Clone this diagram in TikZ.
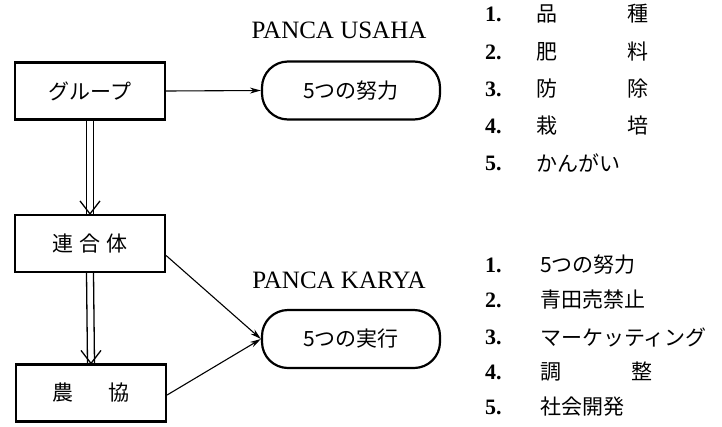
\documentclass[tikz,border=0pt]{standalone}
\usepackage{fontspec}
\setmainfont{Liberation Serif}
\newfontfamily\jp{Noto Sans CJK JP}
\usetikzlibrary{arrows.meta}
\begin{document}
\begin{tikzpicture}[x=1pt,y=-1pt,
  box/.style={draw,line width=2.2pt,minimum width=150pt,minimum height=57pt,inner sep=0pt,font=\jp\fontsize{21}{24}\selectfont},
  pill/.style={draw,line width=2.2pt,rounded corners=26pt,minimum width=178pt,minimum height=58pt,inner sep=0pt,font=\jp\fontsize{21}{24}\selectfont},
  arr/.style={line width=1.1pt,-{Stealth[length=11pt,width=6pt]}},
  dl/.style={line width=1.3pt},
  ttl/.style={font=\fontsize{25}{28}\selectfont,inner sep=0pt},
  num/.style={anchor=west,inner sep=0pt,font=\fontsize{22}{24}\selectfont\bfseries},
  itm/.style={anchor=west,inner sep=0pt,font=\jp\fontsize{21}{24}\selectfont}]
\useasboundingbox (0,0) rectangle (722,426);
\node[box] (grp) at (90,91) {グループ};
\node[box] (ren) at (90,243.5) {連\hspace{6pt}合\hspace{6pt}体};
\node[box] (nok) at (91,393) {農\hspace{36pt}協};
\node[pill] (dor) at (351,90.5) {5つの努力};
\node[pill] (jik) at (351,339) {5つの実行};
\node[ttl] (t1) at (339,30) {PANCA USAHA};
\node[ttl] (t2) at (339,280) {PANCA KARYA};
% double arrows
\draw[dl] ([xshift=-3.5pt]grp.south) -- ([xshift=-3.5pt]ren.north);
\draw[dl] ([xshift=3.5pt]grp.south) -- ([xshift=3.5pt]ren.north);
\draw[dl] ([xshift=-10pt,yshift=13pt]ren.north) -- (ren.north) -- ([xshift=10pt,yshift=13pt]ren.north);
\draw[dl] ([xshift=-3.5pt]ren.south) -- ([xshift=-3.5pt]nok.north);
\draw[dl] ([xshift=3.5pt]ren.south) -- ([xshift=3.5pt]nok.north);
\draw[dl] ([xshift=-10pt,yshift=13pt]nok.north) -- (nok.north) -- ([xshift=10pt,yshift=13pt]nok.north);
\draw[arr] (grp.east) -- (dor.west);
\draw[arr] ([yshift=-12pt]ren.east) -- (jik.west);
\draw[arr] ([yshift=-2pt]nok.east) -- (jik.west);
% list 1
\node[num] (a1) at (485,14) {1.};
\node[num] (a2) at (485,52) {2.};
\node[num] (a3) at (485,89) {3.};
\node[num] (a4) at (485,126) {4.};
\node[num] (a5) at (485,163) {5.};
\node[itm] (b1) at (536,14) {品\hspace{70pt}種};
\node[itm] (b2) at (536,52) {肥\hspace{70pt}料};
\node[itm] (b3) at (536,89) {防\hspace{70pt}除};
\node[itm] (b4) at (536,126) {栽\hspace{70pt}培};
\node[itm] (b5) at (536,163) {かんがい};
% list 2
\node[num] (c1) at (485,265) {1.};
\node[num] (c2) at (485,300) {2.};
\node[num] (c3) at (485,337) {3.};
\node[num] (c4) at (485,372) {4.};
\node[num] (c5) at (485,407) {5.};
\node[itm] (d1) at (540,265) {5つの努力};
\node[itm] (d2) at (540,300) {青田売禁止};
\node[itm] (d3) at (540,337) {マーケッティング};
\node[itm] (d4) at (540,372) {調\hspace{70pt}整};
\node[itm] (d5) at (540,407) {社会開発};
\end{tikzpicture}
\end{document}
